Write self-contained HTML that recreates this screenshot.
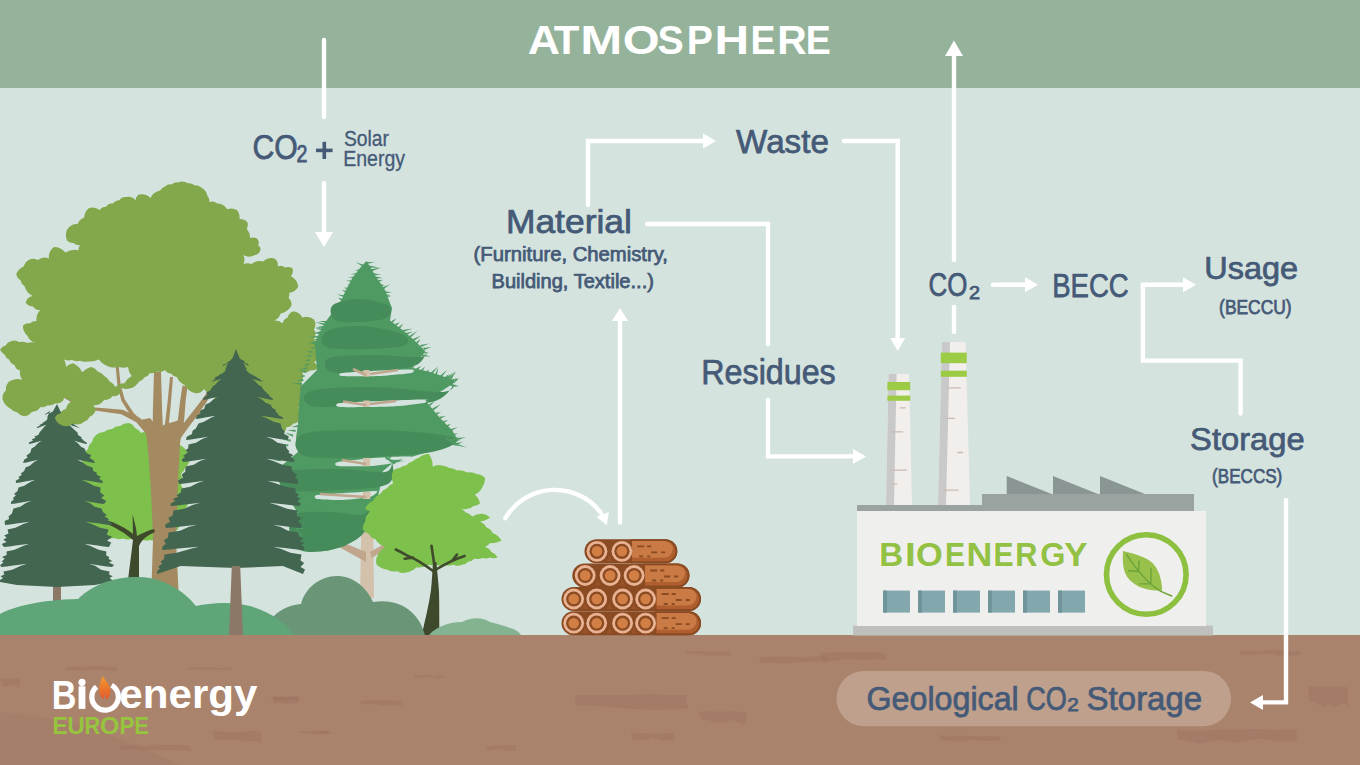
<!DOCTYPE html>
<html><head><meta charset="utf-8"><title>Bioenergy</title>
<style>
html,body{margin:0;padding:0;background:#D5E3DF;}
body{width:1360px;height:765px;overflow:hidden;}
svg{display:block;}
text{font-family:"Liberation Sans", sans-serif;}
</style></head><body>
<svg width="1360" height="765" viewBox="0 0 1360 765">
<rect x="0" y="0" width="1360" height="88" fill="#95B29B"/>
<rect x="0" y="88" width="1360" height="547" fill="#D5E3DF"/>
<path d="M84 456 A10.3 10.3 0 0 1 88 449 A10.2 10.2 0 0 1 92 442 A11.6 11.6 0 0 1 96 435 A13.5 13.5 0 0 1 104 432 A14.2 14.2 0 0 1 112 429 A11.5 11.5 0 0 1 120 426 A13.7 13.7 0 0 1 129 423 A10.1 10.1 0 0 1 135 428 A11.8 11.8 0 0 1 141 433 A14.2 14.2 0 0 1 152 432 A11.2 11.2 0 0 1 158.5 435 A9.1 9.1 0 0 1 165 438 A17.6 17.6 0 0 1 177 444 A16 16 0 0 1 186 450 A17.4 17.4 0 0 1 189 462 A9.6 9.6 0 0 1 185 468 A11.7 11.7 0 0 1 181 474 A16.8 16.8 0 0 1 181 486 A9.2 9.2 0 0 1 185 492 A11.4 11.4 0 0 1 189 498 A16.6 16.6 0 0 1 184 510 A10.3 10.3 0 0 1 182 517.5 A9.7 9.7 0 0 1 180 525 A12.5 12.5 0 0 1 175 531.5 A13.7 13.7 0 0 1 170 538 A12.8 12.8 0 0 1 160 539 A12.8 12.8 0 0 1 150 540 A13.2 13.2 0 0 1 141 539.5 A15 15 0 0 1 132 539 A14.7 14.7 0 0 1 123 538.5 A12.2 12.2 0 0 1 114 538 A12.5 12.5 0 0 1 106 537.7 A9.7 9.7 0 0 1 98 537.3 A11 11 0 0 1 90 537 A15 15 0 0 1 88 528 A12.4 12.4 0 0 1 86 519 A13.9 13.9 0 0 1 84 510 A12.4 12.4 0 0 1 82 500 A12.5 12.5 0 0 1 80 490 A14.5 14.5 0 0 1 78 480 A11.1 11.1 0 0 1 80 472 A10.9 10.9 0 0 1 82 464 A10.5 10.5 0 0 1 84 456 Z" fill="#7DC04B"/>
<path d="M151 600 L153 540 C152 505 150 470 147 440 C146 432 144 426 140 420 L150 418 L158 428 L166 424 L180 420 L186 424 C182 432 180 440 180 445 C178 480 177 510 176 540 L179 600 Z" fill="#A38A60"/>
<path d="M151.4 429.8 L139.7 417.8 L122.6 409.8 L95.2 407.5 L94.8 410.5 L121.4 414.2 L136.3 422.2 L146.6 434.2 Z" fill="#A38A60"/>
<path d="M145.4 424.6 L133.5 412.8 L124.6 399.3 L120.6 384.7 L118.5 363.9 L115.5 364.1 L117.4 385.3 L121.4 400.7 L130.5 415.2 L142.6 427.4 Z" fill="#A38A60"/>
<path d="M163.5 439.9 L162.1 410 L161 372 L154 372 L152.9 410 L152.5 440.1 Z" fill="#A38A60"/>
<path d="M168 432.2 L170.7 405.2 L173 377.1 L170 376.9 L167.3 404.8 L164 431.8 Z" fill="#A38A60"/>
<path d="M179.4 440.8 L184.1 420.5 L185.7 400.3 L187.5 386.4 L182.5 385.6 L180.3 399.7 L177.9 419.5 L172.6 439.2 Z" fill="#A38A60"/>
<path d="M180.8 438.1 L192.5 421.8 L204.2 405.6 L214.9 389.3 L211.1 386.7 L199.8 402.4 L187.5 418.2 L175.2 433.9 Z" fill="#A38A60"/>
<path d="M185.5 429.4 L197.1 416.4 L205.4 412.6 L214.2 411.5 L213.8 408.5 L204.6 409.4 L194.9 413.6 L182.5 426.6 Z" fill="#A38A60"/>
<path d="M62.4 397.1 L69.4 401 L77.5 405.8 L78.5 404.2 L70.6 399 L63.6 394.9 Z" fill="#A38A60"/>
<path d="M126 606 L128 580 L133 540 C125 533 115 527 104 523 L106 520 C116 523 126 528 133 534 L132.5 514 L136 528 L137 536 C143 533 149 530 154 529 L155 532 C148 535 142 539 139 546 L139 580 L140 606 Z" fill="#3F4A2C"/>
<rect x="53" y="575" width="8" height="30" fill="#8B7866"/>
<path d="M57 404 L60.5 411.5 L64.2 414.1 L63.9 412.5 L67.1 414.2 L69 414 L67.8 413.4 L66.4 412.4 L63.8 410.8 L65.2 413 L66.6 416.7 L66.5 418.5 L69.9 421.2 L74.5 423.6 L73.7 424.3 L78 427 L80 428 L77.7 427.4 L74.9 426.4 L68.8 424.8 L71.5 427 L75.4 430.7 L77.5 432.5 L78 434.9 L82.4 437.7 L80.6 437.8 L83.9 440.6 L83.1 440.6 L86.7 442.4 L87 444 L84 443.4 L80.4 442.4 L74.1 440.8 L77.7 443 L81 446.7 L84.5 448.5 L86.3 452.8 L91.3 455.6 L89.6 457.7 L93.8 460.6 L95 463 L91.2 462.4 L86.6 461.4 L77.4 459.8 L81.9 462 L87.4 465.7 L92.5 467.5 L93.3 470.9 L96.8 472.8 L96.7 474.8 L101.2 477.1 L98.8 478.6 L102.5 481.1 L103 483 L98.4 482.4 L92.9 481.4 L81.4 479.8 L86.9 482 L93.8 485.7 L100.5 487.5 L100.2 492.5 L104.3 495.6 L101.2 498 L106.2 501 L104 504 L99.3 503.4 L93.7 502.4 L84.2 500.8 L89.9 503 L94.6 506.7 L101.5 508.5 L102.9 512.1 L107.1 515.3 L104.4 516.2 L108.9 519 L107.6 520.4 L111.8 522.9 L111 525 L105.6 524.4 L99.1 523.4 L85.2 521.8 L91.7 524 L100.2 527.7 L108.5 529.5 L106.8 534.8 L112.1 536.7 L107.1 540.7 L111.2 542.6 L109 547 L103.8 546.4 L97.6 545.4 L84.2 543.8 L90.5 546 L98.6 549.7 L106.5 551.5 L106 554.9 L109.5 557.5 L108.4 558.8 L112.2 560.9 L108.8 562.6 L114.1 565.1 L112 567 L106.5 566.4 L99.9 565.4 L88.9 563.8 L95.5 566 L101 569.7 L109.5 571.5 L109.1 574.5 L112.7 576.2 L109.5 578 L112.8 580.6 L111 582 L94.8 585 L57 587 L17.1 585 L0 582 L-2.1 581.2 L3.1 578 L0.5 576.2 L4.2 574.5 L3.5 571.5 L12.2 569.7 L20.4 566 L27.1 563.8 L13.3 565.4 L6.6 566.4 L1 567 L0.2 565 L3.5 562.6 L1.7 561.6 L4.7 558.8 L2 557.1 L6.7 554.9 L6.5 551.5 L14.6 549.7 L23 546 L29.3 543.8 L15.7 545.4 L9.3 546.4 L4 547 L1.7 544.1 L6.6 542.1 L3.2 539.7 L6.7 537.8 L4.2 535.4 L8.5 533.4 L7.5 529.5 L15.4 527.7 L23.4 524 L29.6 521.8 L16.4 523.4 L10.2 524.4 L5 525 L4.6 521 L9.2 519 L8.5 516.5 L11.9 513.5 L13.5 508.5 L20.2 506.7 L25.9 503 L31.4 500.8 L21.1 502.4 L15.6 503.4 L11 504 L11 501.7 L14 499.4 L12.8 498.2 L15.9 495.2 L14 493.9 L17.5 491.1 L18.5 487.5 L24.2 485.7 L30.3 482 L35.3 479.8 L25 481.4 L20.1 482.4 L16 483 L15.7 480.8 L19.6 478.6 L18.5 476.9 L21.9 474.8 L20.7 473.5 L24.2 470.9 L25.5 467.5 L29.8 465.7 L34.1 462 L38.2 459.8 L30.5 461.4 L26.4 462.4 L23 463 L24.3 459.5 L27.5 457.7 L26.5 455.6 L30.3 452.8 L31.5 448.5 L34.6 446.7 L38.2 443 L41.6 440.8 L35.2 442.4 L31.8 443.4 L29 444 L28.9 442.4 L33.2 440.6 L31.6 439.5 L35.5 437.8 L34.3 436.6 L38.3 434.9 L39.5 432.5 L41 430.7 L44.1 427 L46.5 424.8 L41.4 426.4 L39 427.4 L37 428 L36.7 427.2 L40.9 425.1 L38.9 425.2 L43.8 422.8 L42.2 422.9 L46.4 420.4 L47.5 418.5 L47.4 416.7 L49.1 413 L50.6 410.8 L47.6 412.4 L46.2 413.4 L45 414 L45.2 414.8 L50.5 412.5 L48.8 413.7 L52.9 411.5 Z" fill="#436650"/>
<path d="M165 186.4 A8.5 8.5 0 0 1 171.6 184.4 A9 9 0 0 1 178.1 182.4 A11.4 11.4 0 0 1 187.9 183.2 A8.8 8.8 0 0 1 194.4 185.2 A9.2 9.2 0 0 1 201 187.3 A12.7 12.7 0 0 1 207.5 196.2 A5.7 5.7 0 0 1 209.1 202 A8.3 8.3 0 0 1 217.3 203.6 A11.4 11.4 0 0 1 227.1 209.3 A12.3 12.3 0 0 1 236.9 210.1 A10.2 10.2 0 0 1 239.4 219.1 A10.7 10.7 0 0 1 247.5 222.4 A8.4 8.4 0 0 1 246.7 228.9 A12.6 12.6 0 0 1 250 237.9 A9.2 9.2 0 0 1 257.3 238.7 A6.3 6.3 0 0 1 258.2 245.3 A4.7 4.7 0 0 1 260.6 249.4 A8 8 0 0 1 254.9 255.1 A11.3 11.3 0 0 1 243.5 255.1 A11.4 11.4 0 0 1 243.5 264.1 A9.7 9.7 0 0 1 251.6 264.1 A12.4 12.4 0 0 1 263.1 261.6 A12 12 0 0 1 274.5 258.4 A8.5 8.5 0 0 1 277.8 266.5 A7.1 7.1 0 0 1 285.1 267.4 A9.8 9.8 0 0 1 292.5 268.2 A8.8 8.8 0 0 1 290.9 276.3 A13.5 13.5 0 0 1 298.2 287 A11.8 11.8 0 0 1 289.2 292.7 A6.6 6.6 0 0 1 288.5 297.8 A9.5 9.5 0 0 1 291.5 305.7 A17.7 17.7 0 0 1 280.7 313.5 A11.9 11.9 0 0 1 270.9 321.4 A11.5 11.5 0 0 1 282.6 323.3 A8.4 8.4 0 0 1 287.6 317.5 A9.3 9.3 0 0 1 292.5 311.6 A10.9 10.9 0 0 1 302.3 317.5 A12.8 12.8 0 0 1 314 319.4 A9.4 9.4 0 0 1 314 329.2 A9.6 9.6 0 0 1 314 339 A8.1 8.1 0 0 1 316.4 345.9 A8.4 8.4 0 0 1 318.9 352.7 A11.7 11.7 0 0 1 314 362.5 A8.1 8.1 0 0 1 317.9 368.4 A10.3 10.3 0 0 1 310.1 370.4 A9.7 9.7 0 0 1 302.3 372.4 A11.7 11.7 0 0 1 300.3 384.1 A17.1 17.1 0 0 1 310.1 392 A15 15 0 0 1 302.3 399.8 A9.3 9.3 0 0 1 298.3 407.6 A14.6 14.6 0 0 1 300.3 419.4 A8.7 8.7 0 0 1 293.5 423.4 A8.9 8.9 0 0 1 286.6 427.3 A11.6 11.6 0 0 1 280.7 435.1 A8 8 0 0 1 272.1 434.1 A10.9 10.9 0 0 1 263.6 433 A9.9 9.9 0 0 1 255 432 A11 11 0 0 1 248.3 426.3 A9.2 9.2 0 0 1 241.7 420.7 A10.7 10.7 0 0 1 235 415 A12.2 12.2 0 0 1 227.3 408 A10.5 10.5 0 0 1 219.7 401 A12.4 12.4 0 0 1 212 394 A10.1 10.1 0 0 1 204.2 389 A10.1 10.1 0 0 1 194.4 393 A16.7 16.7 0 0 1 184.6 385 A15.1 15.1 0 0 1 176.8 377 A8.5 8.5 0 0 1 170.9 373.5 A6.9 6.9 0 0 1 165 370 A8.1 8.1 0 0 1 157.5 371.5 A9.5 9.5 0 0 1 150 373 A8.2 8.2 0 0 1 144.6 377.2 A8.8 8.8 0 0 1 139.1 381.5 A14.9 14.9 0 0 1 128.1 388.8 A15.4 15.4 0 0 1 117.1 386 A7.7 7.7 0 0 1 120.8 392.5 A8.7 8.7 0 0 1 112.5 396.1 A8.5 8.5 0 0 1 104.3 399.8 A12.5 12.5 0 0 1 93.3 405.3 A6.3 6.3 0 0 1 95.2 411.7 A10.2 10.2 0 0 1 89.7 416.7 A9 9 0 0 1 84.2 421.7 A10.4 10.4 0 0 1 73.2 423.5 A11.2 11.2 0 0 1 62.2 425.4 A12 12 0 0 1 54.9 418 A6.7 6.7 0 0 1 60.4 413.4 A7.6 7.6 0 0 1 65.9 408.9 A10.8 10.8 0 0 1 73.2 400.7 A12 12 0 0 1 64 397 A6.3 6.3 0 0 1 62.2 401.6 A8.6 8.6 0 0 1 54.9 403.4 A9.8 9.8 0 0 1 47.6 405.3 A8.8 8.8 0 0 1 40.3 407.1 A8.9 8.9 0 0 1 32 411.7 A11.3 11.3 0 0 1 23.8 416.3 A10.2 10.2 0 0 1 17.4 412.6 A10 10 0 0 1 11 408.9 A15.8 15.8 0 0 1 2.7 399.8 A9.7 9.7 0 0 1 5.9 390.6 A11.4 11.4 0 0 1 9.1 381.5 A15.8 15.8 0 0 1 22 379.7 A12.4 12.4 0 0 1 20.1 370.5 A7.2 7.2 0 0 1 14.6 365 A8.9 8.9 0 0 1 9.1 359.5 A8.5 8.5 0 0 1 4.5 354.5 A9.1 9.1 0 0 1 0 349.5 A9.3 9.3 0 0 1 5.5 345.4 A8.8 8.8 0 0 1 11 341.2 A8.6 8.6 0 0 1 19.2 342.1 A10.7 10.7 0 0 1 27.4 343.1 A11.3 11.3 0 0 1 35.7 343.1 A12.4 12.4 0 0 1 27.4 335.7 A13.5 13.5 0 0 1 22.9 325.7 A6.7 6.7 0 0 1 29.8 323.4 A9.5 9.5 0 0 1 36.6 321.1 A12.7 12.7 0 0 1 40.3 310.1 A8.2 8.2 0 0 1 33 306.5 A9.5 9.5 0 0 1 25.6 302.8 A9.1 9.1 0 0 1 32.7 296 A14.4 14.4 0 0 1 24.5 286.1 A9.1 9.1 0 0 1 20.4 280 A8.5 8.5 0 0 1 16.3 273.9 A14.3 14.3 0 0 1 23.7 266.5 A11.2 11.2 0 0 1 30.2 259.2 A9.2 9.2 0 0 1 37.6 260 A11.1 11.1 0 0 1 49 258.4 A12.3 12.3 0 0 1 53.9 246.9 A14.3 14.3 0 0 1 65.4 252.6 A18.2 18.2 0 0 1 78.5 250.2 A6.4 6.4 0 0 1 80.1 245.3 A8.7 8.7 0 0 1 73.5 242.9 A8.8 8.8 0 0 1 67 240.4 A13.2 13.2 0 0 1 67 229.8 A11.7 11.7 0 0 1 77.6 224 A12 12 0 0 1 84.2 217.5 A13.4 13.4 0 0 1 88.3 208.5 A10.9 10.9 0 0 1 99.7 210.1 A7.9 7.9 0 0 1 106.2 206.8 A6.8 6.8 0 0 1 112.8 203.6 A8.5 8.5 0 0 1 119.3 200.3 A7 7 0 0 1 125.9 197 A10.8 10.8 0 0 1 135.7 200.3 A6.6 6.6 0 0 1 139 194.6 A12 12 0 0 1 150.4 197.9 A13.7 13.7 0 0 1 160.2 190.5 A8.4 8.4 0 0 1 165 186.4 Z M65.9 366.9 A13.6 13.6 0 0 1 73.2 363.2 A18.8 18.8 0 0 1 82.3 372.3 A16.1 16.1 0 0 1 91.5 366.9 A13.1 13.1 0 0 1 97.9 371.4 A13.1 13.1 0 0 1 104.3 376 A13 13 0 0 1 109.8 381.5 A12.2 12.2 0 0 1 115.3 387 A14.7 14.7 0 0 1 124.4 383.3 A17.2 17.2 0 0 1 131.7 376 A16.4 16.4 0 0 1 128 366.9 A13.4 13.4 0 0 1 118.9 366.9 A15.2 15.2 0 0 1 109.8 366.9 A20 20 0 0 1 98.8 359.5 A18.6 18.6 0 0 1 87.8 361.4 A13.3 13.3 0 0 1 79.9 360.8 A12.2 12.2 0 0 1 71.9 360.1 A13.3 13.3 0 0 1 64 359.5 A10.8 10.8 0 0 1 65.9 366.9 Z" fill="#82A84B" fill-rule="evenodd"/>
<path d="M360 598 L362.5 460 L365 368 L369 368 L372.5 460 L374 598 Z" fill="#D3C1AC"/>
<path d="M366 562 L330 542 L332 538 L366 552 Z M370 552 L391 540 L393 544 L372 558 Z M364 502 L316 494 L317 490 L364 496 Z M364 468 L341 461 L342 457 L364 462 Z M364 400 L338 390 L340 386 L364 394 Z M372 382 L400 370 L402 374 L372 388 Z M366 378 L355 368 L358 366 L368 374 Z M364 436 L341 431 L342 427 L364 431 Z" fill="#BFA68D"/>
<path d="M366.5 261 L372 270 L378 280 L384 288 L387.6 297 L392 308 L390 320.6 L405 332 L416 342 L425.3 351.2 L418 360 L411 367.6 L430 372 L445 377 L455.9 381.8 L440 392 L425.3 400.6 L440 418 L452 430 L458.2 440.6 L435 450 L411 457 L397 459.4 L383 471 L380 488 L375.9 504 L370 520 L364 532 L345 546 L326.5 551 L298 541.8 L293 528 L298 513.5 L285 492 L274.7 471 L286 462 L298 452 L296 438 L298 424 L299 405 L300.6 386.5 L317 370 L314.7 344 L320 332 L326.5 320.6 L340.6 301.8 L346 290 L352.4 278 L360 268 Z" fill="#4F9A63"/>
<path d="M333 305 C337.2 301.5 350.7 298.8 360 299 C369.3 299.2 384.7 302.8 389 306 C393.3 309.2 390.8 315.3 386 318 C381.2 320.7 368.5 321.7 360 322 C351.5 322.3 339.5 322.8 335 320 C330.5 317.2 328.8 308.5 333 305 Z" fill="#468C5A"/>
<path d="M327 331 C333 327.5 349.5 325.5 362 326 C374.5 326.5 394.8 330.8 402 334 C409.2 337.2 410.3 342.5 405 345 C399.7 347.5 383.2 348.7 370 349 C356.8 349.3 333.2 350 326 347 C318.8 344 321 334.5 327 331 Z" fill="#468C5A"/>
<path d="M329 358 C335.8 355.2 357 355.2 372 355 C387 354.8 410 357.3 419 357 C428 356.7 426.8 351.5 426 353 C425.2 354.5 423 363 414 366 C405 369 385.8 370 372 371 C358.2 372 338.2 374.2 331 372 C323.8 369.8 322.2 360.8 329 358 Z" fill="#468C5A"/>
<path d="M311 391 C321 387.8 350.3 386.8 372 387 C393.7 387.2 427.5 392.2 441 392 C454.5 391.8 454.5 384.3 453 386 C451.5 387.7 445.5 398.8 432 402 C418.5 405.2 392 404.3 372 405 C352 405.7 322.2 408.3 312 406 C301.8 403.7 301 394.2 311 391 Z" fill="#468C5A"/>
<path d="M303 434 C314.2 429.7 350 430 372 430 C394 430 420.8 432.2 435 434 C449.2 435.8 457.5 438 457 441 C456.5 444 446.2 449.3 432 452 C417.8 454.7 393.2 456.3 372 457 C350.8 457.7 316.5 459.8 305 456 C293.5 452.2 291.8 438.3 303 434 Z" fill="#468C5A"/>
<path d="M285 472 C293.8 468.5 323.3 469 340 469 C356.7 469 376.3 473.2 385 472 C393.7 470.8 391.5 460 392 462 C392.5 464 396.7 479.3 388 484 C379.3 488.7 356.8 489 340 490 C323.2 491 296.2 493 287 490 C277.8 487 276.2 475.5 285 472 Z" fill="#468C5A"/>
<path d="M292 516 C297.7 510 318.5 512.2 330 512 C341.5 511.8 354 515.8 361 515 C368 514.2 371.8 503.7 372 507 C372.2 510.3 369 527.8 362 535 C355 542.2 341 547.8 330 550 C319 552.2 302.3 553.7 296 548 C289.7 542.3 286.3 522 292 516 Z" fill="#468C5A"/>
<path d="M342 373 C345.8 372.4 373 370.9 380 370.5 C387 370.1 408.9 369.2 412 369.5 C415.1 369.8 414.2 372.4 411 373 C407.8 373.6 386.9 375.7 380 376 C373.1 376.3 345.8 376.3 342 376 C338.2 375.7 338.2 373.6 342 373 Z" fill="#D5E3DF"/>
<path d="M340 403 C345.2 402.4 383.4 400.9 392 400.5 C400.6 400.1 422.8 399.2 426 399.5 C429.2 399.8 427.4 402.3 424 403 C420.6 403.7 400.4 406.1 392 406.5 C383.6 406.9 345.2 407.4 340 407 C334.8 406.6 334.8 403.6 340 403 Z" fill="#D5E3DF"/>
<path d="M338 462 C342.2 461.1 372.7 458.1 380 457.5 C387.3 456.9 409 456.1 411 456.5 C413 456.9 403.9 461.1 400 462 C396.1 462.9 378.2 465.6 372 466 C365.8 466.4 341.4 466.4 338 466 C334.6 465.6 333.8 462.9 338 462 Z" fill="#D5E3DF"/>
<path d="M317 495 C320.5 494.4 346 492.9 352 492.5 C358 492.1 375.2 490.6 377 491 C378.8 491.4 373.5 496.1 370 497 C366.5 497.9 347.3 499.8 342 500 C336.7 500.2 319.5 499.5 317 499 C314.5 498.5 313.5 495.6 317 495 Z" fill="#D5E3DF"/>
<path d="M363.5 370 h6 v6.5 h-6 Z M363.3 400.5 h6.5 v6.5 h-6.5 Z M363 458 h7 v8 h-7 Z M362.8 492 h7.4 v7 h-7.4 Z" fill="#D3C1AC"/>
<path d="M366 375 L353 369 M370 374 L398 370 M366 405 L343 401.5 M370 404 L396 401 M366 464 L342 460 M366 497 L320 494" stroke="#BFA68D" stroke-width="2.6" fill="none"/>
<path d="M374.6 294.5 L381.9 284.1 L376.6 295.5 Z M376.4 295.1 L385.9 290.4 L377.5 296.9 Z M377.3 296.4 L385.7 285.6 L379.2 297.6 Z M379.2 297 L389.8 294 L380 299 Z M380.2 298.2 L387.3 293.7 L381.6 299.8 Z M381.2 299.6 L385.6 291 L383.3 300.4 Z M383 300.1 L389.1 297.2 L384.2 301.9 Z" fill="#4F9A63"/>
<path d="M413.3 348.1 L421.5 348.9 L413.3 350.3 Z M414 349.3 L419.8 346.4 L415.3 351.1 Z M416.2 350.1 L428.9 353.4 L415.8 352.3 Z M417.3 351.1 L429.2 352.7 L417.3 353.3 Z M417.8 352.5 L424.8 346.4 L419.5 353.9 Z M419.6 353.2 L426.6 351.8 L420.3 355.2 Z M421.4 354.1 L430.8 356.4 L421.2 356.3 Z" fill="#4F9A63"/>
<path d="M443.3 378.9 L455.1 371.7 L444.5 380.7 Z M444.6 379.9 L457.1 371.7 L445.9 381.7 Z M446.2 380.8 L457.3 378.3 L446.9 382.8 Z M447.4 381.8 L457.6 378.4 L448.4 383.8 Z M448.6 382.9 L454.5 380.3 L449.8 384.7 Z M450.7 383.7 L458.8 385.8 L450.4 385.9 Z M451.9 384.7 L459.9 386.1 L451.9 386.9 Z" fill="#4F9A63"/>
<path d="M446.5 437.6 L460.1 443.1 L445.9 439.6 Z M447.6 438.5 L460.8 440.8 L447.4 440.7 Z M448.8 439.5 L461.8 439.4 L449 441.7 Z M449.6 440.7 L459.1 435.9 L450.8 442.5 Z M451.7 441.5 L459.4 443.9 L451.3 443.7 Z M453.2 442.5 L466.9 447.5 L452.6 444.7 Z M453.9 443.5 L463.4 442.1 L454.5 445.7 Z" fill="#4F9A63"/>
<path d="M384.8 456.3 L394.5 455.2 L385.2 458.5 Z M386.7 457.4 L395.5 461.7 L386 459.4 Z M387 458.5 L393.1 455.1 L388.3 460.3 Z M389.1 459.3 L404.5 461.2 L388.9 461.5 Z M390.1 460.3 L400.9 459.5 L390.5 462.5 Z M391.5 461.3 L404.8 460.8 L391.8 463.5 Z M392.5 462.4 L403.6 458.1 L393.5 464.4 Z" fill="#4F9A63"/>
<path d="M363.7 500.9 L375.6 499.6 L364.1 503.1 Z M364.6 502.1 L371.5 498.7 L365.9 503.9 Z M366.1 503 L380.2 497.9 L367 505 Z M367.4 504 L378.6 500.2 L368.4 506 Z M368.7 505 L375.5 502.9 L369.7 507 Z M369.8 506.2 L381 497.9 L371.3 507.8 Z M371.9 506.9 L381.5 508.3 L371.9 509.1 Z" fill="#4F9A63"/>
<path d="M366.4 261.9 L374.8 262.3 L366.6 264.1 Z M368.9 265.6 L378.9 267.4 L368.7 267.8 Z M370.8 269.3 L381 267.6 L371.4 271.4 Z M373.5 272.9 L381.1 274.9 L373.2 275.1 Z M375.7 276.6 L382.7 278.1 L375.5 278.8 Z M377.6 280.3 L383.2 279.7 L378.2 282.4 Z M380.2 283.9 L385.2 285.3 L380.1 286.1 Z M381.9 287.7 L390.4 284.2 L383 289.6 Z M384.7 291.2 L391.8 292.2 L384.7 293.4 Z M387 294.9 L391.3 296.1 L387 297.1 Z" fill="#4F9A63"/>
<path d="M391.3 321.2 L396.5 318.3 L392.7 322.8 Z M395 324.1 L399.8 322.2 L396.2 325.9 Z M398.3 327.3 L403.3 323.5 L399.9 328.7 Z M402.4 329.9 L412.7 328.5 L402.9 332.1 Z M405.8 333 L412.9 331.6 L406.6 335 Z M409.1 336.2 L417.6 330.5 L410.5 337.8 Z M412.8 339 L420.9 335.8 L413.9 341 Z M416.1 342.3 L420.4 339 L417.7 343.7 Z M420.1 344.9 L429.2 343.4 L420.8 347.1 Z M423.7 347.9 L431.6 347 L424.3 350.1 Z" fill="#4F9A63"/>
<path d="M411.1 367.4 L416.3 361.6 L412.9 368.6 Z M416.1 368.6 L421.4 365.7 L417.5 370.3 Z M420.7 370.2 L425.1 366.4 L422.4 371.6 Z M425.6 371.5 L429.3 369.6 L427.1 373.1 Z M430.3 373 L438.2 366.5 L431.9 374.5 Z M434.8 374.9 L438.3 367.8 L436.9 375.6 Z M439.9 375.9 L447.1 369.7 L441.5 377.4 Z M444.6 377.4 L449.1 373.8 L446.3 378.8 Z M449.3 379 L455.7 371.1 L451.1 380.2 Z M454.3 380.1 L458.9 378.1 L455.7 381.9 Z" fill="#4F9A63"/>
<path d="M425.4 400.1 L429.7 398.3 L426.6 401.9 Z M428.8 404.4 L434.8 401 L430.1 406.1 Z M432.3 408.5 L440.8 404.2 L433.5 410.4 Z M436.1 412.6 L441 412.6 L436.6 414.7 Z M439.4 416.8 L445.6 416 L440.1 418.9 Z M442.9 421.1 L448.3 420.3 L443.6 423.1 Z M446.1 425.4 L451 423.5 L447.3 427.3 Z M449.7 429.6 L457.9 427.1 L450.6 431.6 Z M453.2 433.7 L457.7 433.5 L453.9 435.8 Z M456.8 437.9 L466.4 437.2 L457.2 440.1 Z" fill="#4F9A63"/>
<path d="M363.6 267 L355.7 262.3 L364.4 265 Z M361.7 270.9 L354.6 270.6 L361.4 268.7 Z M359.2 274.7 L350.3 274.3 L359 272.5 Z M356.7 278.4 L348.1 277.3 L356.7 276.2 Z M354.2 282.2 L345.8 280.7 L354.3 280 Z M351.7 286 L347.5 284.5 L351.9 283.8 Z M349.2 289.8 L343.4 287.8 L349.5 287.6 Z M346.4 293.4 L341.7 289.6 L347.4 291.5 Z M344.2 297.3 L337.1 294.5 L344.7 295.2 Z M341.4 300.9 L338 297.6 L342.6 299.1 Z" fill="#4F9A63"/>
<path d="M325.8 323.1 L318.8 320.9 L326.2 320.9 Z M324.6 325.5 L315 322 L325.2 323.4 Z M323.8 328 L315.3 327.4 L323.7 325.8 Z M322.6 330.4 L315.1 328.6 L322.8 328.2 Z M321.8 332.8 L312.6 333.9 L321.3 330.7 Z M320 335.2 L314.7 331.7 L320.9 333.2 Z M319.4 337.8 L309 337.2 L319.3 335.6 Z M318.4 340.2 L313.8 340 L318 338 Z M317.4 342.6 L308.1 343.6 L316.9 340.5 Z M315.7 345.1 L309.4 342.2 L316.3 342.9 Z" fill="#4F9A63"/>
<path d="M313.9 349.1 L309.9 347.8 L314.1 346.9 Z M312.6 353.1 L305.9 351.5 L312.7 350.9 Z M311.3 357.1 L304.8 356.1 L311.3 354.9 Z M310.1 361.1 L304.6 360.5 L309.9 358.9 Z M309 365 L302.3 366.3 L308.3 363 Z M307.6 369.1 L299 369.7 L307.1 366.9 Z M305.8 373.1 L297.5 370.3 L306.2 370.9 Z M304.7 377.1 L299.2 376.3 L304.6 374.9 Z M303.5 381.1 L296.3 380.8 L303.2 378.9 Z M301.9 385.1 L291.9 383.3 L302.1 382.9 Z" fill="#4F9A63"/>
<path d="M298.2 427.1 L291 427.2 L297.8 424.9 Z M295.4 432 L287 430 L295.7 429.8 Z M292.7 436.8 L284.8 432.4 L293.5 434.8 Z M290.4 441.7 L282 438.9 L290.9 439.6 Z M288 446.6 L279 443.4 L288.5 444.5 Z M285.5 451.5 L277.7 448.3 L286.1 449.4 Z M283.4 456.4 L273.5 456 L283.3 454.2 Z M280.9 461.3 L273 459.9 L280.9 459.1 Z M278.1 466.1 L268.9 461.7 L278.8 464.1 Z M275.5 471 L272.4 468.2 L276.5 469 Z" fill="#4F9A63"/>
<path d="M294.1 513.9 L300 515.4 L293.9 516.1 Z M294.6 516.7 L299.3 518.3 L294.3 518.9 Z M295.1 519.5 L299.3 521.6 L294.6 521.6 Z M295.4 522.2 L305.4 523.9 L295.3 524.4 Z M296.2 525.1 L302.3 528.6 L295.4 527.1 Z M296.1 527.8 L306.3 528 L296.3 530 Z M297 530.6 L301.7 533.4 L296.3 532.7 Z M297.2 533.3 L305.2 535.1 L297 535.5 Z M297.9 536.2 L302.9 539 L297.2 538.3 Z M298.5 539 L303.3 542.9 L297.5 541 Z" fill="#4F9A63"/>
<path d="M236 349 L239.9 358.8 L244.7 361.2 L243.8 362.2 L247.8 364.1 L249 366 L247.7 365.4 L246.1 364.4 L243 362.8 L244.6 365 L246.4 368.7 L246.5 370.5 L249.1 372.9 L252.6 375 L254.3 375.8 L258.4 378.5 L258.8 378.6 L263.1 381.8 L264 382 L261.2 381.4 L257.8 380.4 L251.5 378.8 L254.8 381 L258.4 384.7 L261.5 386.5 L263.4 389.4 L265.9 391.9 L266.4 392.8 L269.1 394.8 L269.3 396.1 L272.6 398.5 L273 400 L269.3 399.4 L264.9 398.4 L257 396.8 L261.4 399 L265.6 402.7 L270.5 404.5 L272.1 407.6 L276.1 410.3 L275.4 411.2 L278.8 414.4 L277.9 414.9 L283.1 417.6 L283 419 L278.3 418.4 L272.7 417.4 L260.7 415.8 L266.3 418 L273.6 421.7 L280.5 423.5 L281.9 428.5 L284.6 431.3 L284.2 434 L288.7 436.3 L288 440 L282.8 439.4 L276.6 438.4 L266 436.8 L272.2 439 L277.6 442.7 L285.5 444.5 L286.8 448.4 L289.5 451.4 L288.4 452.8 L293.2 455 L291 457.1 L294.6 460 L294 462 L288.2 461.4 L281.2 460.4 L266.3 458.8 L273.2 461 L282.4 464.7 L291.5 466.5 L292.5 471.8 L297.1 474.7 L294.9 477.7 L297.8 479.5 L298 484 L291.8 483.4 L284.4 482.4 L267.3 480.8 L274.7 483 L285.6 486.7 L295.5 488.5 L295.6 492.4 L299.2 494.7 L296.7 496.8 L300.7 498.6 L297.3 501.1 L300.6 503.5 L300 506 L293.6 505.4 L285.9 504.4 L269.1 502.8 L276.8 505 L287.2 508.7 L297.5 510.5 L296.7 515.8 L301.8 518 L298 521.7 L301.8 524 L301 528 L294.5 527.4 L286.7 526.4 L272.9 524.8 L280.7 527 L288 530.7 L298.5 532.5 L299 536.4 L303.4 538.4 L300.1 540.8 L304.3 542.9 L301.5 545.1 L304.3 547 L304 550 L297.2 549.4 L289 548.4 L273.2 546.8 L281.3 549 L290.4 552.7 L301.5 554.5 L300.5 560.5 L304.2 562.9 L300.5 567 L305 569.6 L303 574 L282.9 566 L236 568 L180.7 566 L157 574 L157.4 570.8 L160 568.6 L158 566.8 L162.1 563.8 L160.7 561.6 L164 558.9 L164.5 554.5 L176.8 552.7 L189.9 549 L198.8 546.8 L178.3 548.4 L169.4 549.4 L162 550 L162.5 546.5 L166 543.7 L163.7 540.2 L168 537.8 L168.5 532.5 L180 530.7 L188.5 527 L196.9 524.8 L181.4 526.4 L173 527.4 L166 528 L165 524.7 L170.1 521.7 L168.3 517.7 L172.5 515.8 L173.5 510.5 L184 508.7 L192.5 505 L200.3 502.8 L185.3 504.4 L177.5 505.4 L171 506 L170.4 503.7 L175.4 501.1 L173 499.1 L178.1 496.8 L176.7 495.1 L180.8 492.4 L181.5 488.5 L190.4 486.7 L197.5 483 L204.3 480.8 L191.5 482.4 L184.7 483.4 L179 484 L177.9 480.5 L182.9 477.7 L181.7 474.4 L185.3 471.8 L185.5 466.5 L193.6 464.7 L200 461 L206.4 458.8 L194.7 460.4 L188.3 461.4 L183 462 L181.6 459.5 L185.2 457.1 L182.8 455.9 L187.6 452.8 L185.6 450.1 L188.1 448.4 L188.5 444.5 L196 442.7 L202.2 439 L208.2 436.8 L197 438.4 L191 439.4 L186 440 L186.7 436.7 L192 434 L192.6 430.7 L195.8 428.5 L198.5 423.5 L204 421.7 L210.6 418 L215.4 415.8 L204.8 417.4 L200 418.4 L196 419 L196.8 415.5 L200.3 413.7 L200.4 410.6 L204.2 408.8 L205.5 404.5 L209.6 402.7 L213.9 399 L217.9 396.8 L210.3 398.4 L206.3 399.4 L203 400 L203.5 398 L207.2 395 L206.4 392.3 L210.3 390.5 L212.5 386.5 L215.2 384.7 L218.6 381 L221.8 378.8 L215.7 380.4 L212.6 381.4 L210 382 L211.9 381.6 L215.5 378.6 L214.3 377.8 L218.6 375.8 L219.3 374.7 L223.1 372.9 L225.5 370.5 L225.6 368.7 L227 365 L228.5 362.8 L225.9 364.4 L224.3 365.4 L223 366 L222.5 365 L227.6 363 L226.8 362.5 L230.5 360.5 L229.8 361.1 L232.6 358 Z" fill="#436650"/>
<path d="M428.9 453.9 A21.4 21.4 0 0 1 432.7 466.7 A11 11 0 0 1 441.7 465.4 A13.4 13.4 0 0 1 449.4 467.9 A10.6 10.6 0 0 1 457 470.5 A17.3 17.3 0 0 1 467.2 472.4 A16.5 16.5 0 0 1 477.4 474.3 A10.1 10.1 0 0 1 485 478.1 A15.1 15.1 0 0 1 482.5 487.1 A14.6 14.6 0 0 1 474.8 494.7 A15 15 0 0 1 480 503.6 A10 10 0 0 1 473.6 506.1 A9.9 9.9 0 0 1 467.2 508.7 A12.5 12.5 0 0 1 459.5 508.7 A9.4 9.4 0 0 1 465.9 512.5 A12.4 12.4 0 0 1 472.3 516.4 A16.8 16.8 0 0 1 482.5 513.8 A14.2 14.2 0 0 1 490.1 517.6 A17.1 17.1 0 0 1 480 521.5 A12.6 12.6 0 0 1 486.3 527.2 A10.5 10.5 0 0 1 492.6 532.9 A17.8 17.8 0 0 1 501.6 540.6 A19.8 19.8 0 0 1 490 543.1 A10 10 0 0 1 485 547 A9.7 9.7 0 0 1 491.4 552.1 A13.6 13.6 0 0 1 497.7 557.2 A10.4 10.4 0 0 1 490.1 557.6 A11.5 11.5 0 0 1 482.4 558 A10.3 10.3 0 0 1 474.8 558.4 A10.9 10.9 0 0 1 468.5 561.6 A9.4 9.4 0 0 1 462.1 564.8 A12.8 12.8 0 0 1 453.1 564.8 A12.1 12.1 0 0 1 444.2 564.8 A9.4 9.4 0 0 1 436.5 564.8 A10.6 10.6 0 0 1 428.9 564.8 A21.6 21.6 0 0 1 416.2 567.4 A19 19 0 0 1 406 572.5 A11 11 0 0 1 397.1 571.2 A13 13 0 0 1 388.1 569.9 A20.3 20.3 0 0 1 376.7 564.8 A12.5 12.5 0 0 1 378 554.6 A14.9 14.9 0 0 1 385.6 547 A16.7 16.7 0 0 1 375.4 539.3 A10.1 10.1 0 0 1 369 534.2 A12.8 12.8 0 0 1 362.6 529.1 A12.2 12.2 0 0 1 365.2 521.5 A14.2 14.2 0 0 1 370.3 511.3 A9.5 9.5 0 0 1 365.2 508.7 A13.9 13.9 0 0 1 372.8 501.1 A18.1 18.1 0 0 1 380.5 493.4 A10.8 10.8 0 0 1 386.9 488.3 A10.8 10.8 0 0 1 393.2 483.2 A15.4 15.4 0 0 1 393.2 470.5 A8.7 8.7 0 0 1 399.6 467.9 A9.8 9.8 0 0 1 406 465.4 A12.1 12.1 0 0 1 412.4 461.5 A12.3 12.3 0 0 1 418.7 457.7 A15.4 15.4 0 0 1 428.9 453.9 Z" fill="#7DC04B"/>
<path d="M421.5 636 C425 620 429 605 431 590 C432 580 432.5 570 433 562 L436.5 562 C437 572 438.5 582 439 592 C439.5 606 439 620 439.5 636 Z" fill="#3F4A2C"/>
<path d="M433 571 C425 565 416 559 408 556 C403 553 399 551 395.8 549.5 M434.5 566 L431.5 545.7 M437 569 C445 564 455 559 464.6 555.9 M413 557.5 L404.7 558.8 M452 561 L457 554.6" stroke="#3F4A2C" stroke-width="2.6" fill="none" stroke-linecap="round"/>
<path d="M264 635 C266 620 280 606 301 604 C305 588 320 576 337 576 C352 576 366 586 373 602 C395 598 418 608 425 635 Z" fill="#6A9577"/>
<path d="M0 635 L0 614 C15 606 40 600 78 599 C95 582 120 576 140 577 C165 578 185 592 196 606 C210 603 230 601 250 606 C270 612 285 622 294 635 Z" fill="#5FA577"/>
<path d="M429 635 C437 626 450 622 462 622 C472 617 482 617 490 622 C498 624 505 626 510 628 C515 629 519 632 521 635 Z" fill="#84B391"/>
<path d="M231.8 566 L240.2 566 L243 636 L229 636 Z" fill="#8B7866"/>
<rect x="0" y="635" width="1360" height="130" fill="#A9836C"/>
<path d="M0 678.7 L3.3 678.6 L6.7 678.2 L10 679.3 L13.3 678 L16.7 678.8 L20 679.3 L20.2 685.8 L18.5 687.8 L14.5 685.2 L11.4 685.1 L7.1 687 L3.7 686 L2.8 685.6 Z" fill="#9A6E5B" fill-opacity="0.35"/>
<path d="M66 667.2 L74.3 666.6 L82.7 667.1 L91 666.2 L99.3 666.4 L107.7 667 L116 667.1 L117.3 670.8 L108.5 670.6 L100.2 669.4 L91.6 669.2 L85.3 670.9 L75.5 670 L66.1 670.2 Z" fill="#9A6E5B" fill-opacity="0.35"/>
<path d="M185 668.4 L192.8 667.2 L200.7 667.9 L208.5 667.2 L216.3 667.9 L224.2 668.3 L232 667.3 L232 669.9 L225.8 670 L216.6 669.4 L211.3 669.5 L201.9 669.2 L193.1 669.3 L185.5 669.3 Z" fill="#9A6E5B" fill-opacity="0.35"/>
<path d="M271 697.4 L275.5 696.1 L280 696.8 L284.5 696.9 L289 696.2 L293.5 696.4 L298 697.5 L301 700.8 L295.6 699.1 L289.7 699.8 L284.6 700.3 L282 699.8 L277.8 700.8 L272 699.3 Z" fill="#9A6E5B" fill-opacity="0.35"/>
<path d="M298 731.9 L303.5 731.7 L309 731.6 L314.5 732.5 L320 731.9 L325.5 731 L331 732.2 L332 733.5 L326.1 733.5 L321 733.9 L316.4 733.9 L311.4 734 L305.8 733 L299.5 733.1 Z" fill="#9A6E5B" fill-opacity="0.35"/>
<path d="M414 675.4 L418.8 676.1 L423.7 675.6 L428.5 675.3 L433.3 676.4 L438.2 675.6 L443 675.6 L445.6 677.6 L440.2 677.8 L435.9 677.7 L428.7 676.8 L424.2 676.9 L421.8 677.3 L414 677.9 Z" fill="#9A6E5B" fill-opacity="0.35"/>
<path d="M212 731.3 L220.2 731.6 L228.3 731.9 L236.5 732.4 L244.7 731.5 L252.8 731.2 L261 731.8 L261.4 743.5 L254.5 740.4 L244.9 741.7 L238.6 740 L229.5 739.4 L220.7 740.3 L214.3 739.4 Z" fill="#9A6E5B" fill-opacity="0.35"/>
<path d="M686 651.7 L693.2 651.1 L700.3 651.1 L707.5 651.8 L714.7 651.3 L721.8 651.9 L729 651.1 L731.3 655.6 L721.9 655.6 L716 654.9 L708.7 655.7 L701.8 654.1 L694.8 654.1 L686.1 654 Z" fill="#9A6E5B" fill-opacity="0.35"/>
<path d="M759 657.3 L770.3 656.8 L781.7 656.8 L793 656.8 L804.3 657.4 L815.7 656.1 L827 657 L828.6 663 L817.8 661.7 L804.6 661.8 L794.4 662.4 L783.6 663.8 L772.1 662.8 L761.6 663.3 Z" fill="#9A6E5B" fill-opacity="0.35"/>
<path d="M575 695.2 L593.5 695.1 L612 694.9 L630.5 695.3 L649 694.1 L667.5 694.9 L686 694.9 L688 708.2 L667.7 709.7 L650.8 709.8 L630.7 708.6 L613.4 707.4 L593.6 705.7 L576 705.7 Z" fill="#9A6E5B" fill-opacity="0.35"/>
<path d="M631 732 L638.2 733.4 L645.3 732.9 L652.5 733.5 L659.7 733.5 L666.8 733.2 L674 732.2 L675 740.2 L669.2 740.3 L660.3 740.6 L652.9 737.6 L648.3 739.7 L640.4 739.3 L632.6 739.7 Z" fill="#9A6E5B" fill-opacity="0.35"/>
<path d="M699 712 L706.8 711.4 L714.7 711.4 L722.5 711.8 L730.3 711.3 L738.2 711.7 L746 712.4 L746.1 723.5 L740.6 723.7 L731.1 719.6 L724.3 722.9 L714.8 722.6 L707.7 719.8 L701.9 719.9 Z" fill="#9A6E5B" fill-opacity="0.35"/>
<path d="M273 697.4 L277.2 697.4 L281.3 697.3 L285.5 697.4 L289.7 697.5 L293.8 696.1 L298 696.5 L298.7 702.8 L295.3 703.8 L292.2 703.6 L286.1 704 L282.7 702.8 L278.9 703.4 L273.6 703.6 Z" fill="#9A6E5B" fill-opacity="0.35"/>
<path d="M311 730.5 L313.8 730.3 L316.7 730.8 L319.5 730.3 L322.3 731.1 L325.2 731 L328 730.2 L329.9 733.5 L326.5 733 L324.6 732.6 L321.7 733.7 L318.3 733.5 L313.9 733.1 L312.4 732.6 Z" fill="#9A6E5B" fill-opacity="0.35"/>
<path d="M486 745.5 L491 746.3 L496 745.8 L501 745.1 L506 746.1 L511 745.4 L516 745.8 L516.2 751 L513.8 750.9 L506.4 750.6 L501.3 749 L499 749.4 L492.2 748.9 L487.5 750.7 Z" fill="#9A6E5B" fill-opacity="0.35"/>
<path d="M820 653 L830.7 652.5 L841.3 652.4 L852 652.5 L862.7 652.6 L873.3 652.3 L884 652.9 L886.6 659.7 L873.4 659.3 L862.7 660.1 L854.6 659.3 L844.1 659 L831.5 661.4 L821.4 659.3 Z" fill="#9A6E5B" fill-opacity="0.35"/>
<path d="M1308 686.3 L1314.7 686.5 L1321.3 687.1 L1328 686.5 L1334.7 686.9 L1341.3 686.8 L1348 687.4 L1348.1 707.3 L1343.7 702.8 L1335 707.8 L1328.6 704 L1324 707 L1315.3 702.7 L1309.3 701.2 Z" fill="#9A6E5B" fill-opacity="0.35"/>
<path d="M1177 730.5 L1196.8 730.4 L1216.7 730.1 L1236.5 729.7 L1256.3 729.1 L1276.2 730.2 L1296 729.6 L1297.4 741 L1279.1 741.4 L1259.1 738.8 L1236.8 742.7 L1219.3 740.1 L1199.7 743.8 L1178.6 739 Z" fill="#9A6E5B" fill-opacity="0.35"/>
<path d="M1240 650.8 L1250 651 L1260 651.5 L1270 650.3 L1280 650.1 L1290 651.3 L1300 650.9 L1300.6 654 L1290.9 655.7 L1280.9 655.9 L1271.2 654.1 L1261.4 653.7 L1250.1 655.6 L1240.4 654.6 Z" fill="#9A6E5B" fill-opacity="0.35"/>
<path d="M940 735.3 L950 736 L960 735.8 L970 735.9 L980 736.3 L990 736.2 L1000 736.4 L1000.5 740.9 L992.9 740.9 L980.9 740.7 L970.5 739.6 L961.9 741.7 L952.9 740.5 L940.8 740.3 Z" fill="#9A6E5B" fill-opacity="0.35"/>
<path d="M360 701.4 L366.7 700.5 L373.3 700 L380 700.3 L386.7 700.1 L393.3 700.8 L400 700.5 L402.6 705.5 L393.4 704.9 L387 705.3 L380.7 705.6 L375.2 703.8 L367.8 704.5 L361 703.8 Z" fill="#9A6E5B" fill-opacity="0.35"/>
<path d="M120 745.8 L131.7 745 L143.3 746.1 L155 745.3 L166.7 745.1 L178.3 745 L190 746.3 L192.1 751 L180 750 L166.9 750 L157.1 749.4 L143.5 750.4 L133.2 749.6 L121.1 750.1 Z" fill="#9A6E5B" fill-opacity="0.35"/>
<path d="M0 712 C40 716 80 722 110 735 C140 748 160 755 180 765 L0 765 Z" fill="#9E7462" fill-opacity="0.25"/>
<rect x="561.5" y="611.2" width="139.5" height="24" rx="12" fill="#8A4A22"/>
<path d="M655.7 612.9 L689 612.9 A10.3 10.3 0 0 1 689 633.5 L655.7 633.5 Z" fill="#AE5F2D"/>
<path d="M655.7 612.9 L688 612.9 C694 613.7 697 617.2 696.5 621.2 C696 626.2 692 629.7 687 629.7 L655.7 629.7 Z" fill="#C97A45"/>
<path d="M655.7 612.1 L689 612.1 A10.3 10.3 0 0 1 689 634.4 L655.7 634.4 Z" fill="none" stroke="#8A4A22" stroke-width="1.7"/>
<path d="M661.7 618.2 h7 M671.7 618.2 h4 M675.7 624.2 h6 M685.7 624.2 h4 M663.7 628.2 h4 M671.7 628.2 h3" stroke="#8A4A22" stroke-width="1.8" fill="none"/>
<path d="M582.2 633.2 L585.2 627.2 L588.2 633.2 Z" fill="#9A5329"/>
<path d="M606.7 633.2 L609.7 627.2 L612.7 633.2 Z" fill="#9A5329"/>
<path d="M631.1 633.2 L634.1 627.2 L637.1 633.2 Z" fill="#9A5329"/>
<circle cx="573.7" cy="623.2" r="10.4" fill="#E9B292"/>
<circle cx="573.7" cy="623.2" r="7.6" fill="#8A4A22"/>
<circle cx="573.7" cy="623.2" r="5.3" fill="#D17F45"/>
<circle cx="596.7" cy="623.2" r="10.4" fill="#E9B292"/>
<circle cx="596.7" cy="623.2" r="7.6" fill="#8A4A22"/>
<circle cx="596.7" cy="623.2" r="5.3" fill="#D17F45"/>
<circle cx="622.6" cy="623.2" r="10.4" fill="#E9B292"/>
<circle cx="622.6" cy="623.2" r="7.6" fill="#8A4A22"/>
<circle cx="622.6" cy="623.2" r="5.3" fill="#D17F45"/>
<circle cx="645.6" cy="623.2" r="10.4" fill="#E9B292"/>
<circle cx="645.6" cy="623.2" r="7.6" fill="#8A4A22"/>
<circle cx="645.6" cy="623.2" r="5.3" fill="#D17F45"/>
<rect x="561.5" y="587" width="139.5" height="24" rx="12" fill="#8A4A22"/>
<path d="M655.7 588.7 L689 588.7 A10.3 10.3 0 0 1 689 609.3 L655.7 609.3 Z" fill="#AE5F2D"/>
<path d="M655.7 588.7 L688 588.7 C694 589.5 697 593 696.5 597 C696 602 692 605.5 687 605.5 L655.7 605.5 Z" fill="#C97A45"/>
<path d="M655.7 587.9 L689 587.9 A10.3 10.3 0 0 1 689 610.1 L655.7 610.1 Z" fill="none" stroke="#8A4A22" stroke-width="1.7"/>
<path d="M661.7 594 h7 M671.7 594 h4 M675.7 600 h6 M685.7 600 h4 M663.7 604 h4 M671.7 604 h3" stroke="#8A4A22" stroke-width="1.8" fill="none"/>
<path d="M582.2 609 L585.2 603 L588.2 609 Z" fill="#9A5329"/>
<path d="M606.7 609 L609.7 603 L612.7 609 Z" fill="#9A5329"/>
<path d="M631.1 609 L634.1 603 L637.1 609 Z" fill="#9A5329"/>
<circle cx="573.7" cy="599" r="10.4" fill="#E9B292"/>
<circle cx="573.7" cy="599" r="7.6" fill="#8A4A22"/>
<circle cx="573.7" cy="599" r="5.3" fill="#D17F45"/>
<circle cx="596.7" cy="599" r="10.4" fill="#E9B292"/>
<circle cx="596.7" cy="599" r="7.6" fill="#8A4A22"/>
<circle cx="596.7" cy="599" r="5.3" fill="#D17F45"/>
<circle cx="622.6" cy="599" r="10.4" fill="#E9B292"/>
<circle cx="622.6" cy="599" r="7.6" fill="#8A4A22"/>
<circle cx="622.6" cy="599" r="5.3" fill="#D17F45"/>
<circle cx="645.6" cy="599" r="10.4" fill="#E9B292"/>
<circle cx="645.6" cy="599" r="7.6" fill="#8A4A22"/>
<circle cx="645.6" cy="599" r="5.3" fill="#D17F45"/>
<rect x="572.3" y="563.5" width="117.2" height="24" rx="12" fill="#8A4A22"/>
<path d="M644.2 565.2 L677.5 565.2 A10.3 10.3 0 0 1 677.5 585.8 L644.2 585.8 Z" fill="#AE5F2D"/>
<path d="M644.2 565.2 L676.5 565.2 C682.5 566 685.5 569.5 685 573.5 C684.5 578.5 680.5 582 675.5 582 L644.2 582 Z" fill="#C97A45"/>
<path d="M644.2 564.4 L677.5 564.4 A10.3 10.3 0 0 1 677.5 586.6 L644.2 586.6 Z" fill="none" stroke="#8A4A22" stroke-width="1.7"/>
<path d="M650.2 570.5 h7 M660.2 570.5 h4 M664.2 576.5 h6 M674.2 576.5 h4 M652.2 580.5 h4 M660.2 580.5 h3" stroke="#8A4A22" stroke-width="1.8" fill="none"/>
<path d="M594.7 585.5 L597.7 579.5 L600.7 585.5 Z" fill="#9A5329"/>
<path d="M619.1 585.5 L622.1 579.5 L625.1 585.5 Z" fill="#9A5329"/>
<circle cx="585.2" cy="575.5" r="10.4" fill="#E9B292"/>
<circle cx="585.2" cy="575.5" r="7.6" fill="#8A4A22"/>
<circle cx="585.2" cy="575.5" r="5.3" fill="#D17F45"/>
<circle cx="610.1" cy="575.5" r="10.4" fill="#E9B292"/>
<circle cx="610.1" cy="575.5" r="7.6" fill="#8A4A22"/>
<circle cx="610.1" cy="575.5" r="5.3" fill="#D17F45"/>
<circle cx="634.1" cy="575.5" r="10.4" fill="#E9B292"/>
<circle cx="634.1" cy="575.5" r="7.6" fill="#8A4A22"/>
<circle cx="634.1" cy="575.5" r="5.3" fill="#D17F45"/>
<rect x="584.5" y="539.3" width="92.8" height="24" rx="12" fill="#8A4A22"/>
<path d="M631.2 541 L665.3 541 A10.3 10.3 0 0 1 665.3 561.6 L631.2 561.6 Z" fill="#AE5F2D"/>
<path d="M631.2 541 L664.3 541 C670.3 541.8 673.3 545.3 672.8 549.3 C672.3 554.3 668.3 557.8 663.3 557.8 L631.2 557.8 Z" fill="#C97A45"/>
<path d="M631.2 540.1 L665.3 540.1 A10.3 10.3 0 0 1 665.3 562.4 L631.2 562.4 Z" fill="none" stroke="#8A4A22" stroke-width="1.7"/>
<path d="M637.2 546.3 h7 M647.2 546.3 h4 M651.2 552.3 h6 M661.2 552.3 h4 M639.2 556.3 h4 M647.2 556.3 h3" stroke="#8A4A22" stroke-width="1.8" fill="none"/>
<path d="M606.5 561.3 L609.5 555.3 L612.5 561.3 Z" fill="#9A5329"/>
<circle cx="597" cy="551.3" r="10.4" fill="#E9B292"/>
<circle cx="597" cy="551.3" r="7.6" fill="#8A4A22"/>
<circle cx="597" cy="551.3" r="5.3" fill="#D17F45"/>
<circle cx="621.9" cy="551.3" r="10.4" fill="#E9B292"/>
<circle cx="621.9" cy="551.3" r="7.6" fill="#8A4A22"/>
<circle cx="621.9" cy="551.3" r="5.3" fill="#D17F45"/>
<rect x="853" y="625.6" width="360" height="10" fill="#BFBFBD"/>
<rect x="857" y="511" width="349" height="115" fill="#EFEFED"/>
<rect x="857" y="505" width="337" height="6" fill="#9AA3A0"/>
<rect x="982" y="494" width="212" height="17" fill="#9AA3A0"/>
<path d="M1006.7 494 L1006.7 476 L1051.7 494 Z" fill="#8A9693"/>
<path d="M1053 494 L1053 476 L1098 494 Z" fill="#8A9693"/>
<path d="M1100 494 L1100 476 L1145 494 Z" fill="#8A9693"/>
<path d="M888.6 374 L909 374 L912 505 L886 505 Z" fill="#F2EEEC"/>
<path d="M888.6 374 L896.6 374 L894 505 L886 505 Z" fill="#C9C9C9"/>
<rect x="887.4" y="382" width="22.8" height="8.2" fill="#9CCB45"/>
<rect x="887.4" y="395.6" width="22.8" height="5.2" fill="#9CCB45"/>
<path d="M942 342 L965.6 342 L970 505 L938 505 Z" fill="#F2EEEC"/>
<path d="M942 342 L950 342 L946 505 L938 505 Z" fill="#C9C9C9"/>
<rect x="940.8" y="352.6" width="26" height="10.6" fill="#9CCB45"/>
<rect x="940.8" y="370.7" width="26" height="6.1" fill="#9CCB45"/>
<path d="M899.7 407.9 H905.6 M890.3 431.8 H903.2 M890.3 470.1 H906.7 M891.5 484.2 H897.3 M946.7 387.9 H960.8 M945.5 418.4 H954.9 M957.3 452.5 H963.1 M943.6 490.1 H958.4" stroke="#C9BBB3" stroke-width="1.3" fill="none"/>
<rect x="883" y="590.6" width="27" height="22" fill="#82A8AD"/>
<rect x="883" y="590.6" width="4" height="22" fill="#6F959B"/>
<rect x="918" y="590.6" width="27" height="22" fill="#82A8AD"/>
<rect x="918" y="590.6" width="4" height="22" fill="#6F959B"/>
<rect x="953" y="590.6" width="27" height="22" fill="#82A8AD"/>
<rect x="953" y="590.6" width="4" height="22" fill="#6F959B"/>
<rect x="988" y="590.6" width="27" height="22" fill="#82A8AD"/>
<rect x="988" y="590.6" width="4" height="22" fill="#6F959B"/>
<rect x="1023" y="590.6" width="27" height="22" fill="#82A8AD"/>
<rect x="1023" y="590.6" width="4" height="22" fill="#6F959B"/>
<rect x="1058" y="590.6" width="27" height="22" fill="#82A8AD"/>
<rect x="1058" y="590.6" width="4" height="22" fill="#6F959B"/>
<circle cx="1146.3" cy="574.5" r="39.8" fill="none" stroke="#8DC03F" stroke-width="5.6"/>
<path d="M1123 551 C1136 554 1150 558 1155 566 C1160 573 1162 582 1162.1 590.7 C1152 591 1140 589 1132 582 C1124 576 1122 566 1123 551 Z" fill="#97C14B"/>
<path d="M1126.7 554.7 C1138 572 1148 584 1160.8 591.3 L1171.8 596 M1138.5 571.5 L1128.6 570.8 M1138.5 571.5 L1139.1 560.9 M1150.9 583.9 L1139.7 583.9 M1150.9 583.9 L1150.9 568.4" stroke="#6DA33A" stroke-width="1.4" fill="none" stroke-linecap="round"/>
<path d="M324 40 L324 117" fill="none" stroke="#FFFFFF" stroke-width="4.4" stroke-linecap="round" stroke-linejoin="miter"/>
<path d="M324 183 L324 234" fill="none" stroke="#FFFFFF" stroke-width="4.4" stroke-linecap="round" stroke-linejoin="miter"/>
<path d="M324 247 L315 232 L333 232 Z" fill="#FFFFFF"/>
<path d="M620 522.5 L620 320" fill="none" stroke="#FFFFFF" stroke-width="4.4" stroke-linecap="round" stroke-linejoin="miter"/>
<path d="M620 308 L612 321 L628 321 Z" fill="#FFFFFF"/>
<path d="M588 205 L588 141 L704 141" fill="none" stroke="#FFFFFF" stroke-width="4.4" stroke-linecap="round" stroke-linejoin="miter"/>
<path d="M716 141 L703 133.5 L703 148.5 Z" fill="#FFFFFF"/>
<path d="M647 224 L768 224 L768 344" fill="none" stroke="#FFFFFF" stroke-width="4.4" stroke-linecap="round" stroke-linejoin="miter"/>
<path d="M844 141 L897.7 141 L897.7 338" fill="none" stroke="#FFFFFF" stroke-width="4.4" stroke-linecap="round" stroke-linejoin="miter"/>
<path d="M897.7 351 L890.2 338 L905.2 338 Z" fill="#FFFFFF"/>
<path d="M768 400 L768 456.4 L854 456.4" fill="none" stroke="#FFFFFF" stroke-width="4.4" stroke-linecap="round" stroke-linejoin="miter"/>
<path d="M866 456.4 L853 448.9 L853 463.9 Z" fill="#FFFFFF"/>
<path d="M954 260 L954 54" fill="none" stroke="#FFFFFF" stroke-width="4.4" stroke-linecap="round" stroke-linejoin="miter"/>
<path d="M954 40.5 L945 56 L963 56 Z" fill="#FFFFFF"/>
<path d="M954 307 L954 332" fill="none" stroke="#FFFFFF" stroke-width="4.4" stroke-linecap="round" stroke-linejoin="miter"/>
<path d="M993 284.7 L1026 284.7" fill="none" stroke="#FFFFFF" stroke-width="4.4" stroke-linecap="round" stroke-linejoin="miter"/>
<path d="M1038 284.7 L1025 277.2 L1025 292.2 Z" fill="#FFFFFF"/>
<path d="M1240.6 413.5 L1240.6 360.6 L1142.9 360.6 L1142.9 284.7 L1184 284.7" fill="none" stroke="#FFFFFF" stroke-width="4.4" stroke-linecap="round" stroke-linejoin="miter"/>
<path d="M1196 284.7 L1183 277.2 L1183 292.2 Z" fill="#FFFFFF"/>
<path d="M1286 500 L1286 702.4 L1262 702.4" fill="none" stroke="#FFFFFF" stroke-width="4.4" stroke-linecap="round" stroke-linejoin="miter"/>
<path d="M1250 702.4 L1263 694.9 L1263 709.9 Z" fill="#FFFFFF"/>
<path d="M505.3 518.2 A57.5 57.5 0 0 1 601 513" fill="none" stroke="#FFFFFF" stroke-width="4.4" stroke-linecap="round" stroke-linejoin="miter"/>
<path d="M606.7 524.9 L596.4 516.7 L609 511.9 Z" fill="#FFFFFF"/>
<rect x="836.5" y="671" width="394.5" height="55.3" rx="27.6" fill="#D9C4B6" fill-opacity="0.45"/>
<text x="527.8" y="53.8" font-size="39.86" font-weight="bold" fill="#FFFFFF" textLength="32.23" lengthAdjust="spacingAndGlyphs" >A</text>
<text x="553.7" y="53.8" font-size="39.86" font-weight="bold" fill="#FFFFFF" textLength="25.57" lengthAdjust="spacingAndGlyphs" >T</text>
<text x="580.2" y="53.8" font-size="39.86" font-weight="bold" fill="#FFFFFF" textLength="42.01" lengthAdjust="spacingAndGlyphs" >M</text>
<text x="622.8" y="53.8" font-size="39.86" font-weight="bold" fill="#FFFFFF" textLength="36.82" lengthAdjust="spacingAndGlyphs" >O</text>
<text x="657.6" y="53.8" font-size="39.86" font-weight="bold" fill="#FFFFFF" textLength="26.24" lengthAdjust="spacingAndGlyphs" >S</text>
<text x="686.8" y="53.8" font-size="39.86" font-weight="bold" fill="#FFFFFF" textLength="26.21" lengthAdjust="spacingAndGlyphs" >P</text>
<text x="714.5" y="53.8" font-size="39.86" font-weight="bold" fill="#FFFFFF" textLength="34.64" lengthAdjust="spacingAndGlyphs" >H</text>
<text x="750.5" y="53.8" font-size="39.86" font-weight="bold" fill="#FFFFFF" textLength="25.03" lengthAdjust="spacingAndGlyphs" >E</text>
<text x="777.3" y="53.8" font-size="39.86" font-weight="bold" fill="#FFFFFF" textLength="29.46" lengthAdjust="spacingAndGlyphs" >R</text>
<text x="805.8" y="53.8" font-size="39.86" font-weight="bold" fill="#FFFFFF" textLength="25.03" lengthAdjust="spacingAndGlyphs" >E</text>
<text x="252.4" y="159.4" font-size="35.43" font-weight="normal" fill="#455A77" textLength="45.27" lengthAdjust="spacingAndGlyphs"  stroke="#455A77" stroke-width="0.75">CO</text>
<text x="296.4" y="162.4" font-size="23.36" font-weight="normal" fill="#455A77" textLength="10.94" lengthAdjust="spacingAndGlyphs"  stroke="#455A77" stroke-width="0.75">2</text>
<rect x="316" y="148.6" width="16.6" height="3.6" fill="#455A77"/>
<rect x="322.5" y="141.8" width="3.6" height="17.2" fill="#455A77"/>
<text x="343.9" y="145.5" font-size="21.30" font-weight="normal" fill="#455A77" textLength="45.05" lengthAdjust="spacingAndGlyphs"  stroke="#455A77" stroke-width="0.3">Solar</text>
<text x="343.2" y="165.7" font-size="22.17" font-weight="normal" fill="#455A77" textLength="61.94" lengthAdjust="spacingAndGlyphs"  stroke="#455A77" stroke-width="0.3">Energy</text>
<text x="505.9" y="232.6" font-size="33.12" font-weight="normal" fill="#455A77" textLength="126.05" lengthAdjust="spacingAndGlyphs"  stroke="#455A77" stroke-width="0.75">Material</text>
<text x="473.6" y="260.8" font-size="19.78" font-weight="normal" fill="#455A77" textLength="194.38" lengthAdjust="spacingAndGlyphs"  stroke="#455A77" stroke-width="0.75">(Furniture, Chemistry,</text>
<text x="491.5" y="288.2" font-size="19.78" font-weight="normal" fill="#455A77" textLength="162.40" lengthAdjust="spacingAndGlyphs"  stroke="#455A77" stroke-width="0.75">Building, Textile...)</text>
<text x="736.1" y="153.1" font-size="33.99" font-weight="normal" fill="#455A77" textLength="92.77" lengthAdjust="spacingAndGlyphs"  stroke="#455A77" stroke-width="0.75">Waste</text>
<text x="701.3" y="384" font-size="34.28" font-weight="normal" fill="#455A77" textLength="134.43" lengthAdjust="spacingAndGlyphs"  stroke="#455A77" stroke-width="0.75">Residues</text>
<text x="928.5" y="295.6" font-size="33.41" font-weight="normal" fill="#455A77" textLength="38.84" lengthAdjust="spacingAndGlyphs"  stroke="#455A77" stroke-width="0.75">CO</text>
<text x="969.1" y="298.6" font-size="18.50" font-weight="normal" fill="#455A77" textLength="11.06" lengthAdjust="spacingAndGlyphs"  stroke="#455A77" stroke-width="0.75">2</text>
<text x="1052.2" y="297.3" font-size="33.26" font-weight="normal" fill="#455A77" textLength="76.51" lengthAdjust="spacingAndGlyphs"  stroke="#455A77" stroke-width="0.75">BECC</text>
<text x="1204.3" y="279" font-size="30.65" font-weight="normal" fill="#455A77" textLength="93.77" lengthAdjust="spacingAndGlyphs"  stroke="#455A77" stroke-width="0.75">Usage</text>
<text x="1219.1" y="314.3" font-size="19.35" font-weight="normal" fill="#455A77" textLength="72.57" lengthAdjust="spacingAndGlyphs"  stroke="#455A77" stroke-width="0.75">(BECCU)</text>
<text x="1190.1" y="450.1" font-size="32.10" font-weight="normal" fill="#455A77" textLength="114.48" lengthAdjust="spacingAndGlyphs"  stroke="#455A77" stroke-width="0.75">Storage</text>
<text x="1212.1" y="482.9" font-size="20.36" font-weight="normal" fill="#455A77" textLength="70.23" lengthAdjust="spacingAndGlyphs"  stroke="#455A77" stroke-width="0.75">(BECCS)</text>
<text x="866.5" y="709.9" font-size="33.26" font-weight="normal" fill="#455A77" textLength="152.26" lengthAdjust="spacingAndGlyphs"  stroke="#455A77" stroke-width="0.75">Geological</text>
<text x="1026.3" y="709.9" font-size="33.26" font-weight="normal" fill="#455A77" textLength="40.55" lengthAdjust="spacingAndGlyphs"  stroke="#455A77" stroke-width="0.75">CO</text>
<text x="1067.3" y="711.1" font-size="18.21" font-weight="normal" fill="#455A77" textLength="11.55" lengthAdjust="spacingAndGlyphs"  stroke="#455A77" stroke-width="0.75">2</text>
<text x="1086.6" y="709.9" font-size="33.26" font-weight="normal" fill="#455A77" textLength="115.61" lengthAdjust="spacingAndGlyphs"  stroke="#455A77" stroke-width="0.75">Storage</text>
<text x="879.3" y="565.7" font-size="33.91" font-weight="bold" fill="#93C144" textLength="23.92" lengthAdjust="spacingAndGlyphs" >B</text>
<text x="904.9" y="565.7" font-size="33.91" font-weight="bold" fill="#93C144" textLength="10.73" lengthAdjust="spacingAndGlyphs" >I</text>
<text x="916" y="565.7" font-size="33.91" font-weight="bold" fill="#93C144" textLength="26.75" lengthAdjust="spacingAndGlyphs" >O</text>
<text x="945" y="565.7" font-size="33.91" font-weight="bold" fill="#93C144" textLength="20.07" lengthAdjust="spacingAndGlyphs" >E</text>
<text x="966.5" y="565.7" font-size="33.91" font-weight="bold" fill="#93C144" textLength="25.83" lengthAdjust="spacingAndGlyphs" >N</text>
<text x="993.5" y="565.7" font-size="33.91" font-weight="bold" fill="#93C144" textLength="20.07" lengthAdjust="spacingAndGlyphs" >E</text>
<text x="1015.3" y="565.7" font-size="33.91" font-weight="bold" fill="#93C144" textLength="22.18" lengthAdjust="spacingAndGlyphs" >R</text>
<text x="1040.3" y="565.7" font-size="33.91" font-weight="bold" fill="#93C144" textLength="25.24" lengthAdjust="spacingAndGlyphs" >G</text>
<text x="1064.3" y="565.7" font-size="33.91" font-weight="bold" fill="#93C144" textLength="23.29" lengthAdjust="spacingAndGlyphs" >Y</text>
<text x="51.8" y="708.9" font-size="40.58" font-weight="bold" fill="#FFFFFF" textLength="24.74" lengthAdjust="spacingAndGlyphs" >B</text>
<rect x="78.6" y="686.2" width="6.8" height="22.7" fill="#FFFFFF"/><circle cx="82" cy="682.3" r="3.6" fill="#FFFFFF"/>
<path d="M111.55 685.27 A13.3 13.3 0 1 1 96.55 686.7" fill="none" stroke="#FFFFFF" stroke-width="5.3"/>
<defs><linearGradient id="fl" x1="0" y1="0" x2="0" y2="1"><stop offset="0" stop-color="#F59A2C"/><stop offset="1" stop-color="#E4582B"/></linearGradient></defs>
<path d="M102.4 676 C106 681 110.5 686 110.4 691 C110.3 696 108 699 106 699.5 L105.2 693 L103.8 699.3 C101 698 99.3 695 99.3 690 C99.3 685 101 680 102.4 676 Z" fill="url(#fl)"/>
<text x="119.3" y="708.1" font-size="39.81" font-weight="bold" fill="#FFFFFF" textLength="138.17" lengthAdjust="spacingAndGlyphs" >energy</text>
<text x="52.5" y="734.2" font-size="23.77" font-weight="bold" fill="#97C43F" textLength="15.23" lengthAdjust="spacingAndGlyphs" >E</text>
<text x="67.2" y="734.2" font-size="23.77" font-weight="bold" fill="#97C43F" textLength="17.57" lengthAdjust="spacingAndGlyphs" >U</text>
<text x="84.6" y="734.2" font-size="23.77" font-weight="bold" fill="#97C43F" textLength="15.69" lengthAdjust="spacingAndGlyphs" >R</text>
<text x="100.1" y="734.2" font-size="23.77" font-weight="bold" fill="#97C43F" textLength="19.36" lengthAdjust="spacingAndGlyphs" >O</text>
<text x="119.6" y="734.2" font-size="23.77" font-weight="bold" fill="#97C43F" textLength="15.10" lengthAdjust="spacingAndGlyphs" >P</text>
<text x="134.3" y="734.2" font-size="23.77" font-weight="bold" fill="#97C43F" textLength="14.76" lengthAdjust="spacingAndGlyphs" >E</text>
</svg>
</body></html>
